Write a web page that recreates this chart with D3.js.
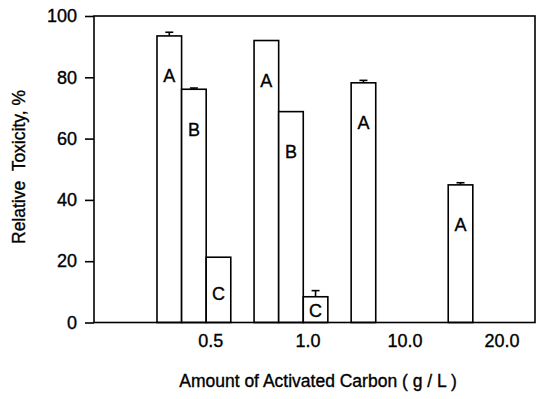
<!DOCTYPE html>
<html>
<head>
<meta charset="utf-8">
<script src="https://cdn.jsdelivr.net/npm/d3@7"></script>
<style>
  body { margin: 0; background: #fff; }
  svg { display: block; font-family: "Liberation Sans", Arial, sans-serif; }
  text { stroke: #000; stroke-width: 0.35px; fill: #000; }
</style>
</head>
<body>
<svg id="chart" width="539" height="399"></svg>
<script>
const doses = ["0.5", "1.0", "10.0", "20.0"];
const series = ["A", "B", "C"];
const valuesA = [93.5, 92.0, 78.2, 44.9];
const valuesB = [76.1, 68.8, null, null];
const valuesC = [21.3, 8.4, null, null];
const errorsA = [1.2, 0, 0.8, 0.7];
const errorsB = [0.4, 0, null, null];
const errorsC = [0, 2.0, null, null];
const yTicks = [0, 20, 40, 60, 80, 100];

const width = 539, height = 399;
const margin = { top: 16, right: 4, bottom: 76.5, left: 94 };
const innerW = width - margin.left - margin.right;
const innerH = height - margin.top - margin.bottom;

const svg = d3.select("#chart");
const g = svg.append("g").attr("transform", `translate(${margin.left},${margin.top})`);

const rows = [];
const vals = { A: valuesA, B: valuesB, C: valuesC };
const errs = { A: errorsA, B: errorsB, C: errorsC };
doses.forEach((d, i) => {
  series.forEach(s => {
    if (vals[s][i] != null) rows.push({ dose: d, series: s, value: vals[s][i], err: errs[s][i] || 0 });
  });
});

const x = d3.scaleBand()
  .domain(doses)
  .range([63, 428])
  .paddingInner(0.24)
  .paddingOuter(0);
const xs = d3.scaleBand()
  .domain(series)
  .range([0, x.bandwidth()]);
const y = d3.scaleLinear()
  .domain([0, 100])
  .range([innerH, 0]);

// y axis
const yAxis = g.append("g")
  .call(d3.axisLeft(y).tickValues(yTicks).tickSize(9).tickPadding(8));
yAxis.select(".domain").remove();
yAxis.selectAll("line").attr("stroke", "#000").attr("stroke-width", 1.6);
yAxis.selectAll("text").attr("font-size", 18).attr("font-family", null);

// x axis labels (no tick marks)
const xAxis = g.append("g")
  .attr("transform", `translate(${x.bandwidth() * 0.23},${innerH})`)
  .call(d3.axisBottom(x).tickSize(0).tickPadding(12));
xAxis.select(".domain").remove();
xAxis.selectAll("text").attr("font-size", 18).attr("font-family", null);

// bars
g.append("g").selectAll("rect")
  .data(rows)
  .join("rect")
  .attr("x", d => x(d.dose) + xs(d.series))
  .attr("y", d => y(d.value))
  .attr("width", xs.bandwidth())
  .attr("height", d => y(0) - y(d.value))
  .attr("fill", "#fff")
  .attr("stroke", "#000")
  .attr("stroke-width", 1.6);

// error bars (upper only)
const eb = g.append("g").attr("stroke", "#000").attr("stroke-width", 1.6);
const withErr = rows.filter(d => d.err > 0);
const cx = d => x(d.dose) + xs(d.series) + xs.bandwidth() / 2;
eb.selectAll("line.v")
  .data(withErr)
  .join("line")
  .attr("class", "v")
  .attr("x1", cx)
  .attr("x2", cx)
  .attr("y1", d => y(d.value))
  .attr("y2", d => y(d.value + d.err));
eb.selectAll("line.c")
  .data(withErr)
  .join("line")
  .attr("class", "c")
  .attr("x1", d => cx(d) - 4)
  .attr("x2", d => cx(d) + 4)
  .attr("y1", d => y(d.value + d.err))
  .attr("y2", d => y(d.value + d.err));

// letters inside bars
g.append("g").attr("text-anchor", "middle")
  .selectAll("text")
  .data(rows)
  .join("text")
  .attr("x", cx)
  .attr("y", d => y(d.value) + Math.min(40, (y(0) - y(d.value)) * 0.55))
  .attr("dy", "0.36em")
  .attr("font-size", 18)
  .text(d => d.series);

// frame
g.append("rect")
  .attr("width", innerW)
  .attr("height", innerH)
  .attr("fill", "none")
  .attr("stroke", "#000")
  .attr("stroke-width", 1.6);

// titles
svg.append("text")
  .attr("x", 318)
  .attr("y", 387)
  .attr("text-anchor", "middle")
  .attr("font-size", 17.5)
  .text("Amount of Activated Carbon ( g / L )");

svg.append("text")
  .attr("transform", `translate(25,167) rotate(-90)`)
  .attr("text-anchor", "middle")
  .attr("font-size", 17.5)
  .attr("xml:space", "preserve")
  .text("Relative  Toxicity, %");
</script>
</body>
</html>
